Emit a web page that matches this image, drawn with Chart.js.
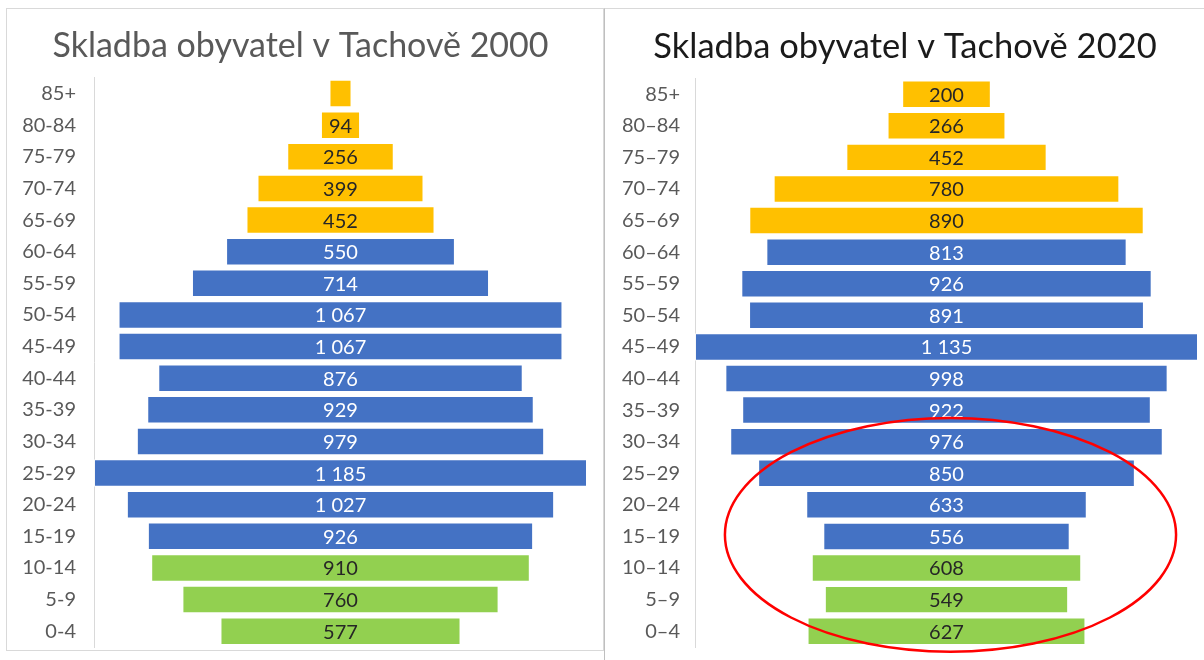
<!DOCTYPE html>
<html lang="cs">
<head>
<meta charset="utf-8">
<title>Skladba obyvatel v Tachově</title>
<script src="https://cdn.jsdelivr.net/npm/chart.js@4.4.1/dist/chart.umd.min.js"></script>
<style>
  html, body { margin: 0; padding: 0; background: #fff; }
  body { width: 1204px; height: 660px; position: relative; overflow: hidden; }
  .panel { position: absolute; box-sizing: border-box; background: #fff; }
  #panelLevy { left: 6px; top: 8px; width: 598px; height: 643px; border: 1px solid #d9d9d9; }
  #panelPravy { left: 604px; top: 8px; width: 620px; height: 670px; border: 1px solid #d9d9d9; border-left-color: #bfbfbf; }
  canvas { position: absolute; }
  #graf2000 { left: 14px; top: 9px; }
  #graf2020 { left: 612px; top: 9px; }
</style>
</head>
<body>
<div class="panel" id="panelLevy"></div>
<div class="panel" id="panelPravy"></div>
<canvas id="graf2000" width="595" height="668"></canvas>
<canvas id="graf2020" width="599" height="668"></canvas>
<script>
// Věkové skupiny (shora dolů)
const kategorie2000 = ['85+', '80-84', '75-79', '70-74', '65-69', '60-64', '55-59', '50-54', '45-49',
    '40-44', '35-39', '30-34', '25-29', '20-24', '15-19', '10-14', '5-9', '0-4'];
const kategorie2020 = ['85+', '80–84', '75–79', '70–74', '65–69', '60–64', '55–59', '50–54', '45–49',
    '40–44', '35–39', '30–34', '25–29', '20–24', '15–19', '10–14', '5–9', '0–4'];

// Počty obyvatel
const obyvatele2000 = [53, 94, 256, 399, 452, 550, 714, 1067, 1067, 876, 929, 979, 1185, 1027, 926, 910, 760, 577];
const obyvatele2020 = [200, 266, 452, 780, 890, 813, 926, 891, 1135, 998, 922, 976, 850, 633, 556, 608, 549, 627];

const nadpis2000 = 'Skladba obyvatel v Tachově 2000';
const nadpis2020 = 'Skladba obyvatel v Tachově 2020';

const PISMO = 'Lato, "Open Sans", sans-serif';

// Barva podle věku: senioři žlutě, děti zeleně, ostatní modře
function barvaSkupiny(stitek) {
    const od = parseInt(stitek, 10);
    if (od >= 65) return '#FFC000';
    if (od < 15) return '#92D050';
    return '#4472C4';
}
function barvaTextu(stitek) {
    return barvaSkupiny(stitek) === '#4472C4' ? '#ffffff' : '#262626';
}

// 1185 -> "1 185"
function formatCislo(v) {
    return String(Math.round(v)).replace(/\B(?=(\d{3})+(?!\d))/g, ' ');
}

// Popisky uprostřed pruhů
const popiskyPlugin = {
    id: 'popisky',
    afterDatasetsDraw(chart) {
        const ctx = chart.ctx;
        const meta = chart.getDatasetMeta(0);
        const data = chart.data.datasets[0].data;
        ctx.save();
        ctx.font = '20px ' + PISMO;
        ctx.textAlign = 'center';
        ctx.textBaseline = 'middle';
        meta.data.forEach((bar, i) => {
            const hodnota = data[i][1] - data[i][0];
            const text = formatCislo(hodnota);
            const sirka = Math.abs(bar.x - bar.base);
            if (ctx.measureText(text).width + 6 > sirka) return; // nevejde se
            ctx.fillStyle = barvaTextu(chart.data.labels[i]);
            ctx.fillText(text, (bar.x + bar.base) / 2, bar.y + 1);
        });
        ctx.restore();
    }
};

// Červená elipsa kolem mladších ročníků v roce 2020
const elipsaPlugin = {
    id: 'elipsa',
    afterDraw(chart) {
        const x = chart.scales.x, y = chart.scales.y;
        const cx = x.getPixelForValue(9);
        const rx = x.getPixelForValue(509) - x.getPixelForValue(0);
        const cy = y.getPixelForValue(13.95);
        const ry = y.getPixelForValue(17.65) - cy;
        const ctx = chart.ctx;
        ctx.save();
        ctx.strokeStyle = '#FF0000';
        ctx.lineWidth = 2.5;
        ctx.beginPath();
        ctx.ellipse(cx, cy, rx, ry, 0, 0, Math.PI * 2);
        ctx.stroke();
        ctx.restore();
    }
};

function vytvorGraf(id, nadpis, barvaNadpisu, velikostNadpisu, kategorie, hodnoty, sirkaOsy, mezeraPopisku, odsazeni, pluginy) {
    const polovina = Math.max(...hodnoty) / 2;
    return new Chart(document.getElementById(id).getContext('2d'), {
        type: 'bar',
        data: {
            labels: kategorie,
            datasets: [{
                data: hodnoty.map(v => [-v / 2, v / 2]),
                backgroundColor: kategorie.map(barvaSkupiny),
                borderColor: 'rgba(255,255,255,0.8)',
                borderWidth: 1,
                borderSkipped: false,
                barPercentage: 1,
                categoryPercentage: 0.87
            }]
        },
        options: {
            indexAxis: 'y',
            responsive: false,
            animation: false,
            layout: { padding: odsazeni },
            scales: {
                x: { type: 'linear', min: -polovina, max: polovina, display: false },
                y: {
                    grid: { display: false },
                    border: { display: true, color: '#d9d9d9', width: 1 },
                    ticks: { color: '#595959', font: { family: PISMO, size: 20 }, padding: mezeraPopisku },
                    afterFit: s => { s.width = sirkaOsy; }
                }
            },
            plugins: {
                legend: { display: false },
                tooltip: { enabled: false },
                title: {
                    display: true,
                    text: nadpis,
                    color: barvaNadpisu,
                    font: { family: PISMO, size: velikostNadpisu, weight: 'normal' },
                    padding: { top: 17, bottom: 11 }
                }
            }
        },
        plugins: pluginy
    });
}

vytvorGraf('graf2000', nadpis2000, '#595959', 34, kategorie2000, obyvatele2000, 80, 10,
    { left: 0, right: 22, top: 0, bottom: 30 }, [popiskyPlugin]);
vytvorGraf('graf2020', nadpis2020, '#1a1a1a', 34.5, kategorie2020, obyvatele2020, 83, 7,
    { left: 0, right: 13, top: 0, bottom: 30 }, [popiskyPlugin, elipsaPlugin]);
</script>
</body>
</html>
